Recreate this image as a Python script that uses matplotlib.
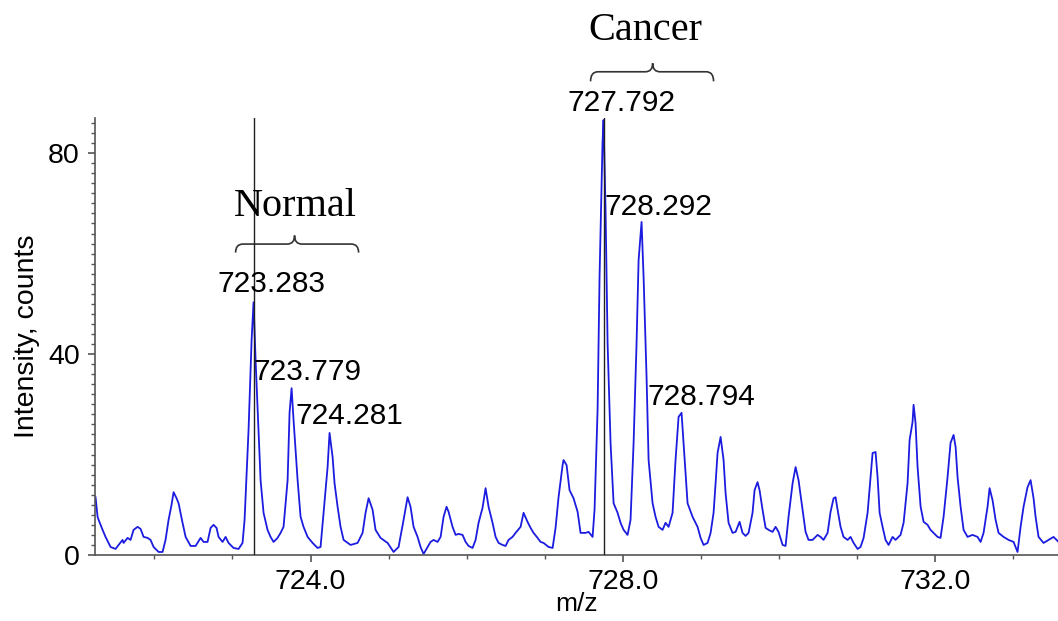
import matplotlib
matplotlib.use('Agg')
import matplotlib.pyplot as plt
from matplotlib.path import Path
from matplotlib.patches import PathPatch
from matplotlib.ticker import MultipleLocator, FixedLocator

plt.rcParams['font.family'] = ['Liberation Sans', 'DejaVu Sans']

# profile spectrum
mz = [721.247, 721.273, 721.286, 721.337, 721.375, 721.439, 721.503, 721.542, 721.593, 721.606,
      721.657, 721.695, 721.734, 721.785, 721.823, 721.862, 721.913, 721.951, 721.990, 722.054,
      722.105, 722.143, 722.182, 722.220, 722.246, 722.284, 722.310, 722.361, 722.400, 722.464,
      722.528, 722.592, 722.630, 722.681, 722.720, 722.758, 722.796, 722.822, 722.873, 722.912,
      722.950, 723.014, 723.078, 723.129, 723.155, 723.181, 723.206, 723.245, 723.270, 723.296,
      723.334, 723.360, 723.398, 723.449, 723.488, 723.526, 723.577, 723.616, 723.654, 723.706,
      723.731, 723.757, 723.782, 723.834, 723.872, 723.910, 723.962, 724.026, 724.090, 724.128,
      724.166, 724.218, 724.243, 724.282, 724.307, 724.346, 724.384, 724.423, 724.512, 724.602,
      724.666, 724.704, 724.743, 724.794, 724.832, 724.896, 724.986, 725.063, 725.127, 725.191,
      725.242, 725.280, 725.319, 725.370, 725.408, 725.447, 725.498, 725.536, 725.575, 725.626,
      725.665, 725.703, 725.741, 725.767, 725.818, 725.857, 725.895, 725.946, 725.985, 726.023,
      726.074, 726.113, 726.151, 726.202, 726.241, 726.279, 726.330, 726.369, 726.407, 726.458,
      726.497, 726.535, 726.586, 726.625, 726.689, 726.727, 726.778, 726.817, 726.855, 726.907,
      726.945, 726.983, 727.047, 727.099, 727.137, 727.175, 727.227, 727.239, 727.278, 727.316,
      727.367, 727.419, 727.457, 727.521, 727.560, 727.611, 727.636, 727.675, 727.700, 727.738,
      727.751, 727.777, 727.803, 727.841, 727.880, 727.931, 727.969, 728.008, 728.059, 728.097,
      728.136, 728.174, 728.200, 728.238, 728.264, 728.302, 728.328, 728.379, 728.417, 728.456,
      728.507, 728.545, 728.584, 728.635, 728.673, 728.712, 728.750, 728.776, 728.827, 728.891,
      728.955, 728.994, 729.032, 729.083, 729.122, 729.160, 729.186, 729.211, 729.250, 729.288,
      729.314, 729.352, 729.403, 729.442, 729.493, 729.531, 729.570, 729.608, 729.659, 729.685,
      729.723, 729.749, 729.787, 729.826, 729.864, 729.915, 729.954, 729.992, 730.044, 730.082,
      730.120, 730.172, 730.210, 730.248, 730.300, 730.338, 730.376, 730.428, 730.492, 730.530,
      730.568, 730.620, 730.658, 730.697, 730.722, 730.748, 730.786, 730.824, 730.876, 730.914,
      730.953, 731.004, 731.042, 731.081, 731.132, 731.170, 731.196, 731.234, 731.260, 731.286,
      731.324, 731.362, 731.401, 731.452, 731.490, 731.554, 731.593, 731.644, 731.670, 731.708,
      731.721, 731.746, 731.772, 731.811, 731.849, 731.900, 731.938, 731.977, 732.028, 732.066,
      732.105, 732.156, 732.194, 732.233, 732.259, 732.284, 732.323, 732.361, 732.412, 732.476,
      732.540, 732.579, 732.617, 732.668, 732.694, 732.732, 732.771, 732.809, 732.873, 732.937,
      733.001, 733.052, 733.091, 733.129, 733.180, 733.219, 733.257, 733.283, 733.321, 733.385,
      733.449, 733.513, 733.577]
intensity = [11.5, 7.6, 7.0, 5.0, 3.6, 1.6, 1.2, 2.0, 3.0, 2.4,
             3.4, 3.0, 5.0, 5.6, 5.2, 3.6, 3.4, 3.0, 1.6, 0.6,
             0.6, 3.0, 7.0, 10.0, 12.5, 11.3, 10.3, 6.4, 3.6, 1.8,
             1.8, 3.4, 2.6, 2.6, 5.4, 6.0, 5.4, 3.6, 2.6, 3.6,
             2.4, 1.4, 1.2, 2.4, 7.0, 16.3, 24.9, 42.8, 50.3, 38.8,
             24.9, 14.9, 8.4, 5.0, 3.6, 2.6, 3.4, 4.4, 5.6, 14.9,
             28.3, 33.2, 26.9, 14.9, 7.6, 5.6, 3.6, 2.4, 1.4, 1.6,
             8.4, 17.5, 24.3, 19.5, 14.3, 9.6, 5.6, 3.0, 2.0, 2.4,
             4.4, 8.4, 11.3, 9.0, 5.0, 3.4, 2.4, 0.6, 1.6, 7.0,
             11.5, 9.6, 5.6, 3.6, 1.6, 0.2, 1.6, 2.6, 3.0, 2.6,
             3.6, 7.6, 9.6, 8.6, 5.6, 4.0, 4.2, 4.0, 2.6, 1.8,
             1.4, 3.0, 6.4, 9.4, 13.3, 9.6, 6.4, 3.6, 2.4, 2.0,
             1.8, 3.0, 3.6, 4.4, 5.6, 8.4, 6.6, 5.4, 4.4, 3.4,
             2.6, 2.4, 1.6, 1.4, 5.4, 11.5, 17.9, 18.9, 17.9, 12.9,
             11.3, 8.6, 4.4, 4.4, 4.6, 3.6, 9.0, 28.9, 55.3, 82.0,
             86.6, 68.7, 42.2, 22.3, 10.3, 8.4, 6.4, 5.0, 4.0, 7.0,
             22.3, 42.2, 58.7, 66.3, 55.3, 35.4, 18.9, 10.3, 7.6, 5.6,
             5.0, 6.4, 5.6, 8.4, 18.9, 27.5, 28.3, 22.3, 10.3, 7.6,
             5.6, 3.4, 2.0, 2.4, 4.4, 8.4, 14.3, 20.3, 23.5, 18.9,
             12.3, 6.4, 4.4, 4.6, 6.6, 4.4, 3.8, 4.4, 8.4, 12.9,
             14.5, 12.9, 9.0, 5.4, 5.0, 4.6, 5.6, 4.6, 2.0, 1.8,
             7.6, 14.3, 17.5, 14.9, 9.0, 4.6, 3.0, 3.0, 4.0, 3.6,
             3.0, 4.4, 8.6, 11.3, 11.5, 9.0, 5.6, 3.6, 3.0, 3.6,
             2.4, 1.2, 1.6, 3.4, 8.4, 15.5, 20.3, 20.5, 15.5, 8.4,
             5.6, 3.0, 2.0, 3.6, 3.0, 4.0, 6.4, 14.3, 22.9, 26.5,
             29.9, 26.3, 17.5, 9.6, 6.6, 6.0, 5.0, 4.4, 3.6, 3.4,
             7.6, 15.5, 22.3, 23.9, 21.5, 15.5, 9.6, 5.0, 3.6, 4.0,
             3.6, 2.6, 4.4, 9.6, 13.3, 10.9, 7.0, 4.4, 3.6, 3.0,
             2.6, 0.6, 5.6, 9.6, 13.5, 14.9, 11.3, 7.6, 3.6, 2.4,
             3.0, 3.6, 2.6]

# labelled peaks
peak_text = ['723.283', '723.779', '724.281', '727.792', '728.292', '728.794']
peak_mz = [723.270, 723.757, 724.243, 727.751, 728.238, 728.750]
peak_int = [50.3, 33.2, 24.3, 86.6, 66.3, 28.3]
marked_mz = [723.270, 727.751]

groups = ['Normal', 'Cancer']

fig = plt.figure(figsize=(10.58, 6.21), dpi=100)
ax = fig.add_axes([0.0898, 0.1063, 0.9102, 0.7037])

ax.plot(mz, intensity, color='#1c1ce0', lw=1.3)
for m in marked_mz:
    ax.axvline(m, color='#202020', lw=1.0, zorder=3)

ax.set_xlim(721.24, 733.57)
ax.set_ylim(0, 87)

for sp in ['top', 'right']:
    ax.spines[sp].set_visible(False)
for sp in ['left', 'bottom']:
    ax.spines[sp].set_color('#555555')
    ax.spines[sp].set_linewidth(1.2)

ax.xaxis.set_major_locator(FixedLocator([724, 728, 732]))
ax.xaxis.set_minor_locator(MultipleLocator(1))
ax.yaxis.set_major_locator(FixedLocator([0, 40, 80]))
ax.yaxis.set_minor_locator(MultipleLocator(2))
ax.set_xticklabels(['724.0', '728.0', '732.0'])
ax.tick_params(axis='both', which='major', labelsize=20.5, color='#555555', length=5, width=1.2)
ax.tick_params(axis='both', which='minor', color='#555555', length=3, width=1.0)
ax.tick_params(axis='x', which='major', pad=5)
ax.tick_params(axis='y', which='major', pad=6)

ax.set_xlabel('m/z', fontsize=19, labelpad=-2)
ax.set_ylabel('Intensity, counts', fontsize=20.5, labelpad=6)

# peak labels (offsets in pixels from each apex)
offsets = [(-36, 18), (-38, 16), (-34, 17), (-36, 17), (-37, 15), (-34, 16)]
for t, m, h, (dx, dy) in zip(peak_text, peak_mz, peak_int, offsets):
    ax.annotate(t, (m, h), xytext=(dx, dy), textcoords='offset pixels',
                fontsize=21.5, ha='left', va='center', color='black',
                annotation_clip=False)


def brace(x0, x1, xt, y_end, y_line, y_tip):
    w = (x1 - x0) * 0.06
    verts = [(x0, y_end), (x0, y_line), (x0 + w, y_line),
             (xt - w, y_line), (xt, y_line), (xt, y_tip),
             (xt, y_line), (xt + w, y_line),
             (x1 - w, y_line), (x1, y_line), (x1, y_end)]
    codes = [Path.MOVETO, Path.CURVE3, Path.CURVE3,
             Path.LINETO, Path.CURVE3, Path.CURVE3,
             Path.CURVE3, Path.CURVE3,
             Path.LINETO, Path.CURVE3, Path.CURVE3]
    ax.add_patch(PathPatch(Path(verts, codes), fill=False, lw=1.2,
                           edgecolor='#333333', clip_on=False))


brace(723.04, 724.615, 723.795, 60.2, 61.9, 63.6)
ax.text(723.81, 69.3, groups[0], fontsize=29, family=['Liberation Serif'],
        ha='center', va='center')
brace(727.585, 729.16, 728.38, 94.3, 96.2, 97.9)
ax.text(728.29, 104.5, groups[1], fontsize=29, family=['Liberation Serif'],
        ha='center', va='center', clip_on=False)

fig.savefig('out.png', dpi=100)
